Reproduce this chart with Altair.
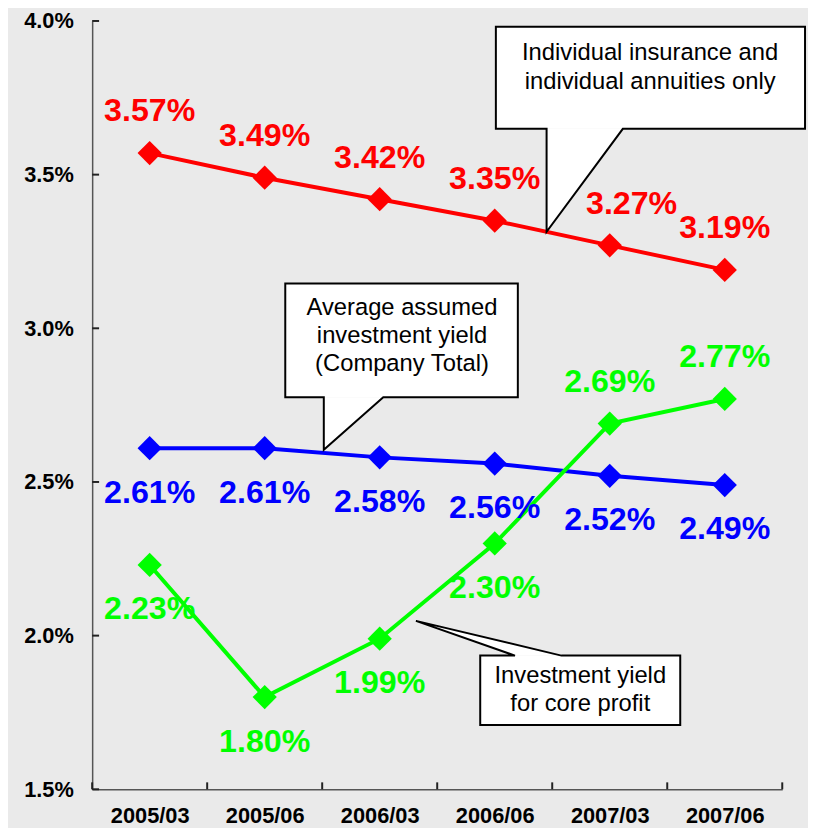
import json
import pandas as pd
import altair as alt

# ---------------- data ----------------
periods = ["2005/03", "2005/06", "2006/03", "2006/06", "2007/03", "2007/06"]
individual_yield = [3.57, 3.49, 3.42, 3.35, 3.27, 3.19]
average_assumed = [2.61, 2.61, 2.58, 2.56, 2.52, 2.49]
core_profit_yield = [2.23, 1.80, 1.99, 2.30, 2.69, 2.77]
individual_label_side = ["above"] * 6
average_label_side = ["below"] * 6
core_label_side = ["below", "below", "below", "below", "above", "above"]
y_tick_values = [1.5, 2.0, 2.5, 3.0, 3.5, 4.0]

series_names = ["individual", "average", "core"]
series_colors = ["#ff0000", "#0000ff", "#00ff00"]

FONT = "Liberation Sans, Arial, Helvetica, sans-serif"
DOMAIN_COLOR = "#555555"
TICK_COLOR = "#222222"
W, H = 697, 776

rows = []
for name, vals, sides in [
    ("individual", individual_yield, individual_label_side),
    ("average", average_assumed, average_label_side),
    ("core", core_profit_yield, core_label_side),
]:
    for i, (p, v, s) in enumerate(zip(periods, vals, sides)):
        rows.append(dict(series=name, idx=i, period=p, value=v, side=s,
                         label=f"{v:.2f}%"))
df = pd.DataFrame(rows)

# ---------------- annotation callouts (data units) ----------------
callouts = [
    dict(id="ind", x0=3.010, x1=5.698, ytop=3.981, ybot=3.649,
         base=(3.451, 4.114), tip=(3.451, 3.314), side="bottom",
         lines=["Individual insurance and", "individual annuities only"],
         tx=4.351, ty=[3.894, 3.800]),
    dict(id="avg", x0=1.179, x1=3.201, ytop=3.146, ybot=2.776,
         base=(1.514, 2.031), tip=(1.514, 2.605), side="bottom",
         lines=["Average assumed", "investment yield", "(Company Total)"],
         tx=2.194, ty=[3.066, 2.976, 2.885]),
    dict(id="core", x0=2.874, x1=4.613, ytop=1.935, ybot=1.709,
         base=(3.176, 3.580), tip=(2.315, 2.048), side="top",
         lines=["Investment yield", "for core profit"],
         tx=3.744, ty=[1.870, 1.777]),
]

box_rows, outline_rows, tail_rows, text_rows = [], [], [], []
for c in callouts:
    box_rows.append(dict(id=c["id"], x0=c["x0"], x1=c["x1"], y0=c["ybot"], y1=c["ytop"]))
    b0, b1 = c["base"]
    tx_, ty_ = c["tip"]
    yb = c["ybot"] if c["side"] == "bottom" else c["ytop"]
    if c["side"] == "bottom":
        pts = [(c["x0"], c["ytop"]), (c["x1"], c["ytop"]), (c["x1"], c["ybot"]),
               (b1, yb), (tx_, ty_), (b0, yb), (c["x0"], c["ybot"]), (c["x0"], c["ytop"])]
    else:
        pts = [(c["x0"], c["ytop"]), (b0, yb), (tx_, ty_), (b1, yb),
               (c["x1"], c["ytop"]), (c["x1"], c["ybot"]), (c["x0"], c["ybot"]),
               (c["x0"], c["ytop"])]
    for k, (px, py) in enumerate(pts):
        outline_rows.append(dict(id=c["id"], ord=k, x=px, y=py))
    # triangle tail fill, expressed as an area (x independent)
    tri = sorted([(b0, yb), (b1, yb), (tx_, ty_)])
    (xa, ya), (xm, ym), (xc, yc) = tri
    if abs(xa - xm) < 1e-9:
        tail_rows.append(dict(id=c["id"], x=xa, y=ya, y2=ym))
        tail_rows.append(dict(id=c["id"], x=xc, y=yc, y2=yc))
    else:
        yi = ya + (yc - ya) * (xm - xa) / (xc - xa)
        tail_rows.append(dict(id=c["id"], x=xa, y=ya, y2=ya))
        tail_rows.append(dict(id=c["id"], x=xm, y=ym, y2=yi))
        tail_rows.append(dict(id=c["id"], x=xc, y=yc, y2=yc))
    for line, ly in zip(c["lines"], c["ty"]):
        text_rows.append(dict(id=c["id"], x=c["tx"], y=ly, text=line))

box_df = pd.DataFrame(box_rows)
outline_df = pd.DataFrame(outline_rows)
tail_df = pd.DataFrame(tail_rows)
text_df = pd.DataFrame(text_rows)

# ---------------- scales & axes ----------------
XS = alt.Scale(domain=[-0.5, len(periods) - 0.5], nice=False, zero=False)
YS = alt.Scale(domain=[1.5, 4.0], nice=False, zero=False)
color = alt.Color("series:N", scale=alt.Scale(domain=series_names, range=series_colors),
                  legend=None)

x_axis = alt.Axis(values=list(range(len(periods))),
                  labelExpr=f"{json.dumps(periods)}[datum.value]",
                  ticks=False, tickSize=0, grid=False, domain=True,
                  domainColor=DOMAIN_COLOR, domainWidth=1.5,
                  labelFont=FONT, labelFontSize=22, labelFontWeight="bold",
                  labelColor="#000000", labelPadding=17, title="")
y_axis = alt.Axis(values=y_tick_values,
                  labelExpr="format(datum.value, '.1f') + '%'",
                  ticks=False, tickSize=0, grid=False, domain=True,
                  domainColor=DOMAIN_COLOR, domainWidth=1.5,
                  labelFont=FONT, labelFontSize=22, labelFontWeight="bold",
                  labelColor="#000000", labelPadding=19, title="")


def X(field):
    return alt.X(field, scale=XS, axis=x_axis, title="")


def Y(field):
    return alt.Y(field, scale=YS, axis=y_axis, title="")


base = alt.Chart(df)

lines = base.mark_line(strokeWidth=4).encode(
    x=X("idx:Q"), y=Y("value:Q"), color=color, detail="series:N",
)

points = base.mark_point(shape="diamond", filled=True, size=600, opacity=1).encode(
    x=X("idx:Q"), y=Y("value:Q"), color=color,
)

label_common = dict(fontSize=32.5, fontWeight="bold", font=FONT, align="center",
                    baseline="middle")

labels_above = base.transform_filter("datum.side == 'above'").transform_calculate(
    lx="datum.series == 'individual' && datum.idx == 4 ? datum.idx + 0.19 : datum.idx"
).mark_text(dy=-42, **label_common).encode(
    x=X("lx:Q"), y=Y("value:Q"), text="label:N", color=color,
)

labels_below = base.transform_filter("datum.side == 'below'").mark_text(
    dy=45, **label_common).encode(
    x=X("idx:Q"), y=Y("value:Q"), text="label:N", color=color,
)

# inward tick marks
y_ticks = alt.Chart(pd.DataFrame({"v": y_tick_values})).mark_rule(
    color=TICK_COLOR, strokeWidth=2).encode(
    y=Y("v:Q"), x=alt.value(0), x2=alt.value(7),
)
boundaries = [i - 0.5 for i in range(len(periods) + 1)]
x_ticks = alt.Chart(pd.DataFrame({"b": boundaries})).mark_rule(
    color=TICK_COLOR, strokeWidth=2).encode(
    x=X("b:Q"), y=alt.value(H), y2=alt.value(H - 7),
)

# callouts
boxes = alt.Chart(box_df).mark_rect(fill="#ffffff", strokeWidth=0).encode(
    x=X("x0:Q"), x2="x1:Q", y=Y("y0:Q"), y2="y1:Q",
)
tails = alt.Chart(tail_df).mark_area(fill="#ffffff", opacity=1).encode(
    x=X("x:Q"), y=Y("y:Q"), y2="y2:Q", detail="id:N",
)
outlines = alt.Chart(outline_df).mark_line(
    color="#000000", strokeWidth=2, strokeJoin="miter", strokeCap="square").encode(
    x=X("x:Q"), y=Y("y:Q"), order="ord:Q", detail="id:N",
)
callout_text = alt.Chart(text_df).mark_text(
    font=FONT, fontSize=24, color="#000000", align="center", baseline="middle").encode(
    x=X("x:Q"), y=Y("y:Q"), text="text:N",
)

chart = alt.layer(
    lines, boxes, tails, outlines, callout_text, y_ticks, x_ticks,
    points, labels_above, labels_below,
).properties(
    width=W, height=H,
    padding={"left": 85, "top": 9, "right": 26, "bottom": 35},
    autosize=alt.AutoSizeParams(type="none"),
    background="#eaeaea",
).configure_view(stroke=None)

chart.save("out.html", embed_options={"renderer": "svg", "actions": False})
